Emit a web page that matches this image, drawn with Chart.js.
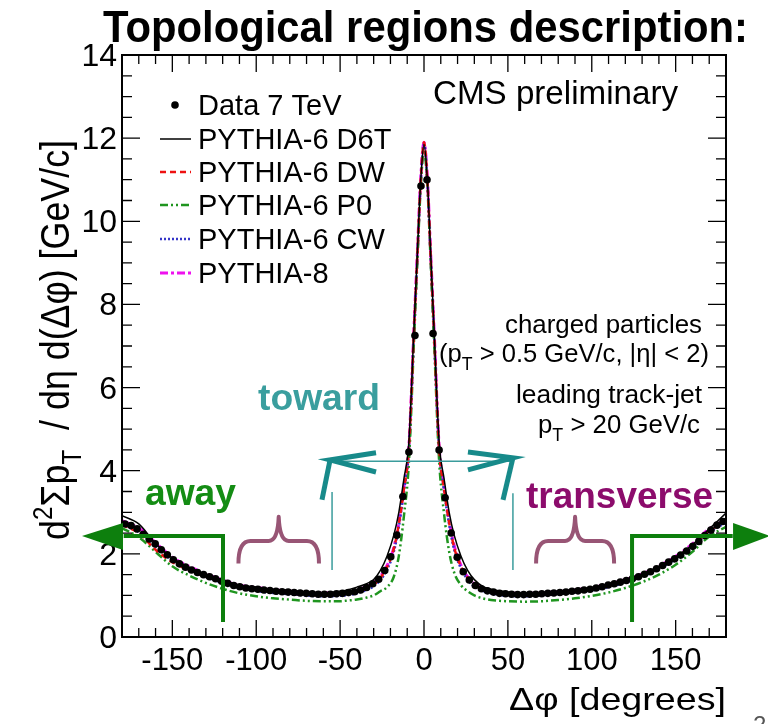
<!DOCTYPE html>
<html>
<head>
<meta charset="utf-8">
<script src="https://cdn.jsdelivr.net/npm/chart.js@4.4.0/dist/chart.umd.min.js"></script>
<style>
  html, body { margin: 0; padding: 0; background: #ffffff; }
  #wrap { width: 768px; height: 724px; overflow: hidden; }
</style>
</head>
<body>
<div id="wrap"><canvas id="c" width="768" height="724"></canvas></div>
<script>
// Delta-phi bin centres of the data histogram (degrees)
const dataPhi = [
  -178.2, -174.6, -171.0, -167.4, -163.8, -160.2, -156.6, -153.0, -149.4, -145.8,
  -142.2, -138.6, -135.0, -131.4, -127.8, -124.2, -120.6, -117.0, -113.4, -109.8,
  -106.2, -102.6, -99.0, -95.4, -91.8, -88.2, -84.6, -81.0, -77.4, -73.8,
  -70.2, -66.6, -63.0, -59.4, -55.8, -52.2, -48.6, -45.0, -41.4, -37.8,
  -34.2, -30.6, -27.0, -23.4, -19.8, -16.2, -12.6, -9.0, -5.4, -1.8,
  1.8, 5.4, 9.0, 12.6, 16.2, 19.8, 23.4, 27.0, 30.6, 34.2,
  37.8, 41.4, 45.0, 48.6, 52.2, 55.8, 59.4, 63.0, 66.6, 70.2,
  73.8, 77.4, 81.0, 84.6, 88.2, 91.8, 95.4, 99.0, 102.6, 106.2,
  109.8, 113.4, 117.0, 120.6, 124.2, 127.8, 131.4, 135.0, 138.6, 142.2,
  145.8, 149.4, 153.0, 156.6, 160.2, 163.8, 167.4, 171.0, 174.6, 178.2,
];
const data7TeV = [
  2.72, 2.68, 2.60, 2.47, 2.36, 2.24, 2.10, 1.98, 1.86, 1.76,
  1.68, 1.61, 1.55, 1.50, 1.45, 1.40, 1.34, 1.29, 1.24, 1.21,
  1.18, 1.16, 1.15, 1.13, 1.12, 1.10, 1.09, 1.08, 1.07, 1.06,
  1.05, 1.04, 1.03, 1.03, 1.03, 1.04, 1.05, 1.07, 1.09, 1.13,
  1.19, 1.28, 1.39, 1.60, 1.93, 2.45, 3.38, 4.45, 7.25, 10.85,
  11.00, 7.30, 4.50, 3.35, 2.50, 1.92, 1.57, 1.37, 1.24, 1.16,
  1.11, 1.08, 1.05, 1.04, 1.03, 1.02, 1.02, 1.03, 1.03, 1.04,
  1.05, 1.06, 1.07, 1.08, 1.10, 1.11, 1.13, 1.15, 1.18, 1.21,
  1.25, 1.28, 1.32, 1.36, 1.40, 1.45, 1.51, 1.57, 1.64, 1.72,
  1.80, 1.88, 1.97, 2.07, 2.18, 2.30, 2.44, 2.57, 2.69, 2.78,
];

// Delta-phi points of the MC curves (degrees)
const mcPhi = [
  -180, -170, -160, -150, -140, -130, -120, -110, -100, -90, -80, -70, -60, -50,
  -45, -40, -35, -30, -26, -22, -18, -15, -12, -9, -6, -4, -2,
  0,
  2, 4, 6, 9, 12, 15, 18, 22, 26, 30, 35, 40, 45,
  50, 60, 70, 80, 90, 100, 110, 120, 130, 140, 150, 160, 170, 180,
];
const pythia6D6T = [
  2.92, 2.72, 2.25, 1.90, 1.68, 1.50, 1.37, 1.25, 1.20, 1.14, 1.12, 1.08, 1.06, 1.10,
  1.14, 1.20, 1.27, 1.38, 1.60, 1.95, 2.45, 3.00, 3.80, 4.70, 7.40, 9.20, 10.95,
  11.85,
  11.00, 9.20, 7.40, 4.70, 3.80, 3.00, 2.45, 1.95, 1.60, 1.38, 1.22, 1.15, 1.11,
  1.08, 1.05, 1.06, 1.09, 1.13, 1.18, 1.27, 1.37, 1.51, 1.70, 1.93, 2.22, 2.60, 2.98,
];
const pythia6DW = [
  2.70, 2.50, 2.10, 1.80, 1.62, 1.45, 1.32, 1.20, 1.13, 1.09, 1.05, 1.02, 1.00, 1.02,
  1.05, 1.08, 1.15, 1.26, 1.42, 1.68, 2.12, 2.72, 3.55, 4.55, 7.35, 9.15, 10.95,
  11.90,
  11.00, 9.15, 7.35, 4.55, 3.55, 2.75, 2.15, 1.70, 1.42, 1.25, 1.14, 1.08, 1.04,
  1.02, 1.00, 1.02, 1.05, 1.10, 1.15, 1.23, 1.34, 1.48, 1.67, 1.90, 2.20, 2.55, 2.78,
];
const pythia6P0 = [
  2.62, 2.40, 2.05, 1.70, 1.48, 1.30, 1.16, 1.05, 0.98, 0.93, 0.90, 0.87, 0.86, 0.86,
  0.88, 0.90, 0.94, 1.00, 1.10, 1.20, 1.45, 1.95, 2.90, 4.20, 7.10, 9.00, 10.80,
  11.70,
  10.85, 9.00, 7.10, 4.25, 2.95, 2.05, 1.55, 1.25, 1.10, 1.00, 0.93, 0.89, 0.87,
  0.86, 0.85, 0.86, 0.89, 0.93, 0.99, 1.07, 1.18, 1.32, 1.50, 1.74, 2.05, 2.42, 2.65,
];
const pythia6CW = [
  2.70, 2.52, 2.18, 1.84, 1.62, 1.44, 1.30, 1.18, 1.11, 1.06, 1.03, 1.00, 0.98, 0.99,
  1.01, 1.05, 1.12, 1.22, 1.37, 1.62, 2.05, 2.65, 3.50, 4.50, 7.30, 9.10, 10.90,
  11.85,
  10.95, 9.10, 7.30, 4.50, 3.50, 2.70, 2.10, 1.65, 1.38, 1.21, 1.11, 1.05, 1.01,
  0.99, 0.98, 1.00, 1.03, 1.07, 1.12, 1.20, 1.31, 1.45, 1.64, 1.87, 2.17, 2.52, 2.75,
];
const pythia8 = [
  2.80, 2.62, 2.27, 1.92, 1.70, 1.52, 1.37, 1.25, 1.19, 1.14, 1.10, 1.07, 1.06, 1.07,
  1.09, 1.13, 1.20, 1.31, 1.46, 1.72, 2.15, 2.75, 3.60, 4.60, 7.40, 9.20, 11.00,
  11.90,
  11.05, 9.20, 7.40, 4.60, 3.60, 2.80, 2.20, 1.73, 1.45, 1.28, 1.17, 1.11, 1.08,
  1.06, 1.05, 1.06, 1.09, 1.13, 1.19, 1.27, 1.38, 1.52, 1.71, 1.94, 2.24, 2.60, 2.82,
];

// Axis tick labels
const xTickLabels = [-150, -100, -50, 0, 50, 100, 150];
const yTickLabels = [0, 2, 4, 6, 8, 10, 12, 14];

const SANS = "'Liberation Sans', Arial, Helvetica, sans-serif";

function toPoints(xs, ys) {
  return xs.map((x, i) => ({ x, y: ys[i] }));
}

// Draws a run of text pieces; s = 1 superscript, s = -1 subscript.
// If o.width is given the run is squeezed/stretched horizontally to that width.
function drawRich(ctx, parts, x, y, o) {
  const weight = o.weight || 'normal';
  const fontFor = (p) => `${weight} ${p.s ? Math.round(o.size * 0.68) : o.size}px ${SANS}`;
  let total = 0;
  parts.forEach((p) => {
    ctx.font = fontFor(p);
    total += ctx.measureText(p.t).width;
  });
  const sx = o.width ? o.width / total : 1;
  ctx.save();
  ctx.translate(x, y);
  if (o.rotate) ctx.rotate(o.rotate);
  ctx.scale(sx, 1);
  let cx = o.align === 'right' ? -total : o.align === 'center' ? -total / 2 : 0;
  ctx.fillStyle = o.color || '#000000';
  ctx.textAlign = 'left';
  ctx.textBaseline = 'alphabetic';
  parts.forEach((p) => {
    ctx.font = fontFor(p);
    const dy = p.s === -1 ? o.size * 0.3 : p.s === 1 ? -o.size * 0.42 : 0;
    ctx.fillText(p.t, cx, dy);
    cx += ctx.measureText(p.t).width;
  });
  ctx.restore();
}

function txt(ctx, t, x, y, o) {
  drawRich(ctx, [{ t }], x, y, o);
}

function strokePath(ctx, pts, color, width) {
  ctx.beginPath();
  ctx.moveTo(pts[0][0], pts[0][1]);
  for (let i = 1; i < pts.length; i++) ctx.lineTo(pts[i][0], pts[i][1]);
  ctx.strokeStyle = color;
  ctx.lineWidth = width;
  ctx.lineCap = 'butt';
  ctx.lineJoin = 'miter';
  ctx.stroke();
}

// Horizontal curly brace opening downward
function brace(ctx, x0, x1, yEnd, yFlat, yTip, color) {
  const xm = (x0 + x1) / 2;
  ctx.beginPath();
  ctx.moveTo(x0, yEnd);
  ctx.quadraticCurveTo(x0, yFlat, x0 + 12, yFlat);
  ctx.lineTo(xm - 10, yFlat);
  ctx.quadraticCurveTo(xm - 1, yFlat, xm, yTip);
  ctx.quadraticCurveTo(xm + 1, yFlat, xm + 10, yFlat);
  ctx.lineTo(x1 - 12, yFlat);
  ctx.quadraticCurveTo(x1, yFlat, x1, yEnd);
  ctx.strokeStyle = color;
  ctx.lineWidth = 4;
  ctx.lineJoin = 'round';
  ctx.stroke();
}

const decorations = {
  id: 'decorations',
  afterDraw(chart) {
    const ctx = chart.ctx;
    const xs = chart.scales.x;
    const ys = chart.scales.y;
    const a = chart.chartArea;
    const X = (v) => xs.getPixelForValue(v);
    const Y = (v) => ys.getPixelForValue(v);

    ctx.save();

    // Frame
    ctx.strokeStyle = '#000000';
    ctx.lineWidth = 2;
    ctx.strokeRect(a.left, a.top, a.right - a.left, a.bottom - a.top);

    // Inward ticks on all four sides
    ctx.lineWidth = 1.3;
    ctx.beginPath();
    for (let v = -170; v <= 170; v += 10) {
      const len = v % 50 === 0 ? 17 : 9;
      const px = X(v);
      ctx.moveTo(px, a.bottom);
      ctx.lineTo(px, a.bottom - len);
      ctx.moveTo(px, a.top);
      ctx.lineTo(px, a.top + len);
    }
    for (let v = 0.5; v < 14; v += 0.5) {
      const len = v % 2 === 0 ? 18 : 10;
      const py = Y(v);
      ctx.moveTo(a.left, py);
      ctx.lineTo(a.left + len, py);
      ctx.moveTo(a.right, py);
      ctx.lineTo(a.right - len, py);
    }
    ctx.stroke();

    // Tick labels
    xTickLabels.forEach((v) => {
      txt(ctx, String(v), X(v), a.bottom + 33, { size: 31, align: 'center' });
    });
    yTickLabels.forEach((v) => {
      txt(ctx, String(v), 117, Y(v) + 11, { size: 32, align: 'right' });
    });

    // Axis titles
    txt(ctx, 'Δφ [degrees]', a.right, 710, { size: 32, align: 'right', width: 217 });
    drawRich(
      ctx,
      [
        { t: 'd' }, { t: '2', s: 1 }, { t: 'Σp' }, { t: 'T', s: -1 },
        { t: '  / dη d(Δφ) [GeV/c]' },
      ],
      69, 340,
      { size: 40, align: 'center', rotate: -Math.PI / 2, width: 400 }
    );

    // Title and labels
    txt(ctx, 'Topological regions description:', 103, 42, { size: 44, weight: 'bold', width: 645 });
    txt(ctx, 'CMS preliminary', 433, 104, { size: 33, width: 245 });

    txt(ctx, 'charged particles', 702, 333, { size: 26, align: 'right', width: 197 });
    drawRich(ctx, [{ t: '(p' }, { t: 'T', s: -1 }, { t: ' > 0.5 GeV/c, |η| < 2)' }],
      709, 362, { size: 26, align: 'right', width: 270 });
    txt(ctx, 'leading track-jet', 702, 403, { size: 26, align: 'right', width: 186 });
    drawRich(ctx, [{ t: 'p' }, { t: 'T', s: -1 }, { t: ' > 20 GeV/c' }],
      700, 433, { size: 26, align: 'right', width: 162 });

    // Legend
    const rows = [115, 149, 182, 215, 249, 283];
    chart.data.datasets.forEach((ds, i) => {
      const by = rows[i];
      const cy = by - 10;
      if (ds.showLine === false) {
        ctx.beginPath();
        ctx.arc(175, cy, 3.8, 0, Math.PI * 2);
        ctx.fillStyle = '#000000';
        ctx.fill();
      } else {
        ctx.save();
        ctx.setLineDash(ds.borderDash || []);
        strokePath(ctx, [[160, cy], [191, cy]], ds.borderColor, ds.borderWidth);
        ctx.restore();
      }
      txt(ctx, ds.label, 198, by, { size: 29 });
    });

    // Toward region: double arrow with vertical markers
    const teal = '#178a8a';
    const tealThin = '#3a9c9c';
    strokePath(ctx, [[X(-53), Y(4.23)], [X(51.3), Y(4.23)]], tealThin, 1.5);
    strokePath(ctx, [[X(-54.8), Y(3.49)], [X(-54.8), Y(1.61)]], tealThin, 1.5);
    strokePath(ctx, [[X(53), Y(3.46)], [X(53), Y(1.61)]], tealThin, 1.5);
    strokePath(ctx, [[X(-28.6), Y(4.43)], [X(-56), Y(4.26)], [X(-28.6), Y(3.97)]], teal, 5);
    strokePath(ctx, [[X(-56), Y(4.26)], [X(-60.8), Y(3.3)]], teal, 5);
    strokePath(ctx, [[X(26.2), Y(4.45)], [X(53), Y(4.31)], [X(26.2), Y(4.02)]], teal, 5);
    strokePath(ctx, [[X(53), Y(4.31)], [X(47.1), Y(3.3)]], teal, 5);
    txt(ctx, 'toward', 258, 410, { size: 36, weight: 'bold', color: '#3a9e9e', width: 122 });

    // Away region: green arrows leaving the frame
    const green = '#0d7f0d';
    strokePath(ctx, [[X(-119.8), Y(0.36)], [X(-119.8), Y(2.43)], [X(-179), Y(2.43)]], green, 4);
    ctx.beginPath();
    ctx.moveTo(82, Y(2.43));
    ctx.lineTo(X(-179.4), Y(2.74));
    ctx.lineTo(X(-179.4), Y(2.09));
    ctx.closePath();
    ctx.fillStyle = green;
    ctx.fill();
    strokePath(ctx, [[X(124), Y(0.36)], [X(124), Y(2.43)], [X(184), Y(2.43)]], green, 4);
    ctx.beginPath();
    ctx.moveTo(770, Y(2.43));
    ctx.lineTo(X(184.2), Y(2.74));
    ctx.lineTo(X(184.2), Y(2.09));
    ctx.closePath();
    ctx.fill();
    txt(ctx, 'away', 145, 505, { size: 36, weight: 'bold', color: '#148c14', width: 91 });

    // Transverse region: braces
    const mauve = '#985575';
    brace(ctx, X(-110.6), X(-62.6), Y(1.77), Y(2.31), Y(2.89), mauve);
    brace(ctx, X(66.8), X(113.3), Y(1.77), Y(2.31), Y(2.89), mauve);
    txt(ctx, 'transverse', 526, 508, { size: 36, weight: 'bold', color: '#8c0c6c', width: 187 });

    // Slide page number, cut by the edge
    txt(ctx, '2', 753, 733, { size: 24, color: '#555555' });

    ctx.restore();
  },
};

const lineBase = {
  pointRadius: 0,
  fill: false,
  cubicInterpolationMode: 'monotone',
};

new Chart(document.getElementById('c'), {
  type: 'scatter',
  data: {
    datasets: [
      {
        label: 'Data 7 TeV',
        data: toPoints(dataPhi, data7TeV),
        showLine: false,
        pointRadius: 3.8,
        pointBorderWidth: 0,
        pointBackgroundColor: '#000000',
        borderColor: '#000000',
      },
      { ...lineBase, label: 'PYTHIA-6 D6T', data: toPoints(mcPhi, pythia6D6T), showLine: true,
        borderColor: '#000000', borderWidth: 1.5, borderDash: [] },
      { ...lineBase, label: 'PYTHIA-6 DW', data: toPoints(mcPhi, pythia6DW), showLine: true,
        borderColor: '#ee1111', borderWidth: 2.5, borderDash: [6, 4] },
      { ...lineBase, label: 'PYTHIA-6 P0', data: toPoints(mcPhi, pythia6P0), showLine: true,
        borderColor: '#1f951f', borderWidth: 2.5, borderDash: [8, 3, 2, 3, 2, 3] },
      { ...lineBase, label: 'PYTHIA-6 CW', data: toPoints(mcPhi, pythia6CW), showLine: true,
        borderColor: '#3535c8', borderWidth: 2.5, borderDash: [2, 2] },
      { ...lineBase, label: 'PYTHIA-8', data: toPoints(mcPhi, pythia8), showLine: true,
        borderColor: '#ee11ee', borderWidth: 3, borderDash: [8, 3, 3, 3] },
    ],
  },
  options: {
    responsive: false,
    animation: false,
    devicePixelRatio: 1,
    layout: { padding: { left: 122, right: 42, top: 55, bottom: 87 } },
    scales: {
      x: { type: 'linear', min: -180, max: 180, display: false },
      y: { type: 'linear', min: 0, max: 14, display: false },
    },
    plugins: {
      legend: { display: false },
      tooltip: { enabled: false },
    },
  },
  plugins: [decorations],
});
</script>
</body>
</html>
